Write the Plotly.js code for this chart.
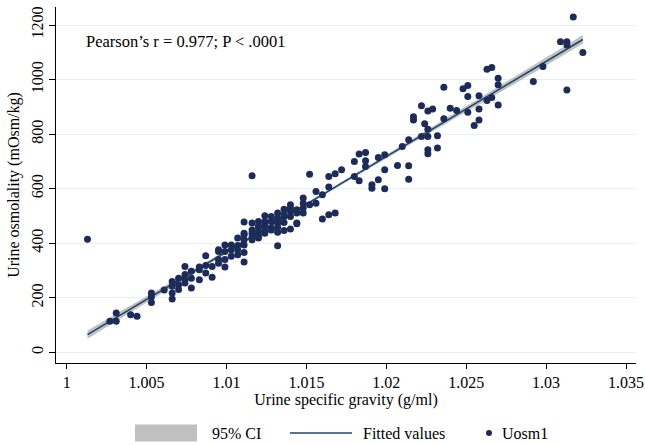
<!DOCTYPE html>
<html>
<head>
<meta charset="utf-8">
<script src="https://cdn.plot.ly/plotly-3.0.1.min.js"></script>
<style>html,body{margin:0;padding:0;background:#fff;}#chart{width:645px;height:445px;}</style>
</head>
<body>
<div id="chart"></div>
<script>
// Scatter data: urine specific gravity (g/ml) vs urine osmolality (mOsm/kg)
var uosmX = [1.0013,1.0027,1.0031,1.0031,1.0040,1.0044,1.0053,1.0053,1.0053,1.0061,
  1.0066,1.0066,1.0066,1.0066,1.0070,1.0070,1.0070,1.0074,1.0074,1.0074,
  1.0074,1.0078,1.0078,1.0078,1.0083,1.0083,1.0087,1.0087,1.0087,1.0091,
  1.0091,1.0095,1.0095,1.0099,1.0099,1.0099,1.0099,1.0103,1.0103,1.0107,
  1.0107,1.0107,1.0111,1.0111,1.0111,1.0111,1.0111,1.0111,1.0116,1.0116,
  1.0116,1.0116,1.0116,1.0120,1.0120,1.0120,1.0120,1.0124,1.0124,1.0124,
  1.0124,1.0128,1.0128,1.0128,1.0132,1.0132,1.0132,1.0132,1.0132,1.0136,
  1.0136,1.0136,1.0136,1.0140,1.0140,1.0140,1.0140,1.0144,1.0144,1.0144,
  1.0148,1.0148,1.0148,1.0148,1.0152,1.0152,1.0156,1.0156,1.0160,1.0160,
  1.0164,1.0164,1.0164,1.0168,1.0168,1.0172,1.0180,1.0180,1.0183,1.0183,
  1.0187,1.0187,1.0187,1.0191,1.0191,1.0195,1.0195,1.0199,1.0199,1.0199,
  1.0207,1.0210,1.0214,1.0214,1.0214,1.0217,1.0217,1.0222,1.0224,1.0222,
  1.0226,1.0229,1.0226,1.0226,1.0226,1.0226,1.0232,1.0232,1.0236,1.0236,
  1.0240,1.0244,1.0248,1.0251,1.0251,1.0251,1.0255,1.0258,1.0258,1.0258,
  1.0263,1.0263,1.0266,1.0266,1.0270,1.0270,1.0270,1.0292,1.0298,1.0309,
  1.0313,1.0313,1.0313,1.0317,1.0323,
  1.0083,1.0095,1.0095,1.0103,1.0107,1.0111,1.0116,1.0120,1.0120,1.0124,
  1.0124,1.0128,1.0132,1.0136,1.0140,1.0144,1.0132];
var uosmY = [415,114,144,114,138,132,218,203,183,229,
  260,242,218,196,272,248,230,315,285,266,
  254,297,272,236,303,266,354,318,291,315,
  275,370,340,394,370,340,313,394,352,419,
  392,358,478,431,413,394,366,331,474,449,
  437,413,647,480,462,443,419,501,480,462,
  437,498,480,456,511,492,474,440,391,525,
  498,476,447,541,517,498,452,523,511,474,
  566,547,529,511,653,541,590,547,578,489,
  645,606,504,655,511,669,700,645,727,629,
  733,702,681,614,602,714,633,724,669,600,
  685,755,779,684,635,864,852,904,838,791,
  885,892,818,791,743,728,794,749,972,856,
  895,887,966,978,938,880,832,941,892,852,
  1038,923,1044,934,1005,981,907,993,1048,1139,
  1139,1127,962,1229,1099,
  313,327,376,376,376,437,423,459,428,468,
  444,449,459,504,529,471,486];

// Fitted line and 95% confidence band
var fitX = [1.0013, 1.0323];
var fitY = [65, 1147];
var ciX  = [1.0013, 1.0065, 1.0115, 1.0165, 1.0215, 1.0265, 1.0323];
var ciLo = [50, 237, 416, 590, 763, 932, 1131];
var ciHi = [80, 255, 426, 600, 777, 956, 1163];

// Axis ticks
var xTickVals = [1, 1.005, 1.01, 1.015, 1.02, 1.025, 1.03, 1.035];
var xTickText = ['1', '1.005', '1.01', '1.015', '1.02', '1.025', '1.03', '1.035'];
var yTickVals = [0, 200, 400, 600, 800, 1000, 1200];
var yTickText = ['0', '200', '400', '600', '800', '1000', '1200'];

// Legend labels
var legendLabels = ['95% CI', 'Fitted values', 'Uosm1'];

var FONT = 'Liberation Serif, Times New Roman, serif';
var NAVY = '#1a476f';
var DOT = '#1c2b58';
var CIGRAY = '#c0c0c0';

var traces = [
  {x: ciX, y: ciLo, type: 'scatter', mode: 'lines', line: {width: 0, color: CIGRAY},
   hoverinfo: 'skip', showlegend: false},
  {x: ciX, y: ciHi, type: 'scatter', mode: 'lines', line: {width: 0, color: CIGRAY},
   fill: 'tonexty', fillcolor: CIGRAY, showlegend: false, name: legendLabels[0]},
  {x: fitX, y: fitY, type: 'scatter', mode: 'lines', line: {width: 1.6, color: NAVY},
   showlegend: false, name: legendLabels[1]},
  {x: uosmX, y: uosmY, type: 'scatter', mode: 'markers',
   marker: {size: 7, color: DOT, line: {width: 0}}, showlegend: false, name: legendLabels[2]}
];

// pixel -> paper helpers for the hand-drawn legend
var L = 56, R = 636, T = 7, B = 363;
function px(v) { return (v - L) / (R - L); }
function py(v) { return (B - v) / (B - T); }
var legY = 433;

var layout = {
  width: 645, height: 445,
  margin: {l: L, r: 645 - R, t: T, b: 445 - B},
  paper_bgcolor: '#ffffff', plot_bgcolor: '#ffffff',
  font: {family: FONT, size: 16, color: '#000'},
  showlegend: false,
  xaxis: {
    range: [0.99933, 1.035625],
    tickmode: 'array', tickvals: xTickVals, ticktext: xTickText,
    showgrid: false, zeroline: false,
    showline: true, linecolor: '#000', linewidth: 1,
    ticks: 'outside', ticklen: 5, tickcolor: '#000', tickwidth: 1,
    tickfont: {family: FONT, size: 16, color: '#000'},
    title: {text: 'Urine specific gravity (g/ml)', font: {family: FONT, size: 16, color: '#000'}, standoff: 2}
  },
  yaxis: {
    range: [-39, 1266],
    tickmode: 'array', tickvals: yTickVals, ticktext: yTickText,
    tickangle: -90,
    showgrid: true, gridcolor: '#e8eff1', gridwidth: 1,
    zeroline: false,
    showline: true, linecolor: '#000', linewidth: 1,
    ticks: 'outside', ticklen: 6, tickcolor: '#000', tickwidth: 1,
    tickfont: {family: FONT, size: 16, color: '#000'},
    title: {text: 'Urine osmolality (mOsm/kg)', font: {family: FONT, size: 16, color: '#000'}, standoff: 4}
  },
  annotations: [
    {x: 1.00106, y: 1138, xref: 'x', yref: 'y', xanchor: 'left', yanchor: 'middle',
     text: 'Pearson\u2019s r = 0.977; P < .0001', showarrow: false,
     font: {family: FONT, size: 16.5, color: '#000'}},
    {x: px(210), y: py(legY), xref: 'paper', yref: 'paper', xanchor: 'left', yanchor: 'middle',
     text: legendLabels[0], showarrow: false, font: {family: FONT, size: 16, color: '#000'}},
    {x: px(361), y: py(legY), xref: 'paper', yref: 'paper', xanchor: 'left', yanchor: 'middle',
     text: legendLabels[1], showarrow: false, font: {family: FONT, size: 16, color: '#000'}},
    {x: px(500), y: py(legY), xref: 'paper', yref: 'paper', xanchor: 'left', yanchor: 'middle',
     text: legendLabels[2], showarrow: false, font: {family: FONT, size: 16, color: '#000'}}
  ],
  shapes: [
    {type: 'rect', xref: 'paper', yref: 'paper', x0: px(135), x1: px(197), y0: py(legY + 8.5), y1: py(legY - 8.5),
     fillcolor: CIGRAY, line: {width: 0}},
    {type: 'line', xref: 'paper', yref: 'paper', x0: px(290), x1: px(352), y0: py(legY), y1: py(legY),
     line: {color: NAVY, width: 1.6}},
    {type: 'circle', xref: 'paper', yref: 'paper', x0: px(486), x1: px(492), y0: py(legY + 3), y1: py(legY - 3),
     fillcolor: DOT, line: {width: 0}}
  ]
};

Plotly.newPlot('chart', traces, layout, {displayModeBar: false, staticPlot: true});
</script>
</body>
</html>
